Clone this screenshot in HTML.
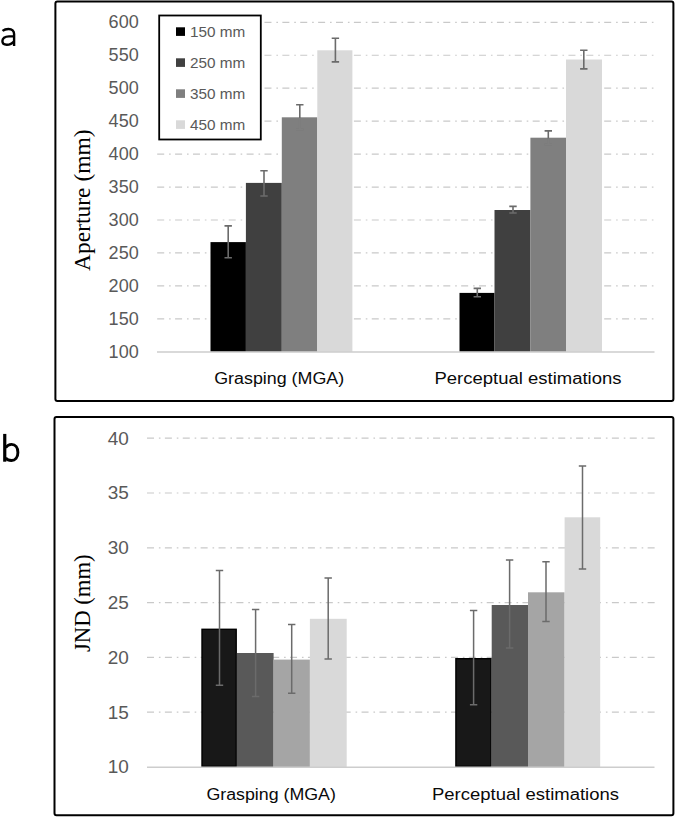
<!DOCTYPE html>
<html><head><meta charset="utf-8"><title>Chart</title>
<style>html,body{margin:0;padding:0;background:#fff;}body{width:675px;height:817px;position:relative;overflow:hidden;font-family:"Liberation Sans",sans-serif;}</style>
</head><body>
<svg width="675" height="817" viewBox="0 0 675 817" style="position:absolute;left:0;top:0">
<path d="M2.5 30.9 C4.2 29.6 6.2 29.0 8.4 29.0 C12.2 29.0 14.1 30.8 14.1 34.0 V45.9 M14.1 36.4 H9.0 C4.6 36.4 2.4 38.4 2.4 41.1 C2.4 43.5 4.3 44.8 6.8 44.8 C9.9 44.8 12.4 43.4 14.1 41.2" fill="none" stroke="#000" stroke-width="2.4"/>
<path d="M4.75 433.9 V461.7" fill="none" stroke="#000" stroke-width="3.2"/><path d="M5.6 447.6 C7.2 445.4 9.4 444.4 11.6 444.4 C15.5 444.4 17.9 447.6 17.9 452.4 C17.9 457.7 15.2 460.5 11.4 460.5 C9.0 460.5 7.0 459.7 5.6 458.0" fill="none" stroke="#000" stroke-width="2.9"/>
<rect x="55.4" y="1.5" width="618.0" height="399.4" fill="none" stroke="#000" stroke-width="2" rx="2"/>
<rect x="54.5" y="416.9" width="618.9" height="398.3" fill="none" stroke="#000" stroke-width="2" rx="2"/>
<line x1="157.2" y1="318.85" x2="655" y2="318.85" stroke="#c9c9c9" stroke-width="1.2" stroke-dasharray="7.0 4.9 1.6 4.38"/>
<line x1="157.2" y1="285.90" x2="655" y2="285.90" stroke="#c9c9c9" stroke-width="1.2" stroke-dasharray="7.0 4.9 1.6 4.38"/>
<line x1="157.2" y1="252.95" x2="655" y2="252.95" stroke="#c9c9c9" stroke-width="1.2" stroke-dasharray="7.0 4.9 1.6 4.38"/>
<line x1="157.2" y1="220.00" x2="655" y2="220.00" stroke="#c9c9c9" stroke-width="1.2" stroke-dasharray="7.0 4.9 1.6 4.38"/>
<line x1="157.2" y1="187.05" x2="655" y2="187.05" stroke="#c9c9c9" stroke-width="1.2" stroke-dasharray="7.0 4.9 1.6 4.38"/>
<line x1="157.2" y1="154.10" x2="655" y2="154.10" stroke="#c9c9c9" stroke-width="1.2" stroke-dasharray="7.0 4.9 1.6 4.38"/>
<line x1="157.2" y1="121.15" x2="655" y2="121.15" stroke="#c9c9c9" stroke-width="1.2" stroke-dasharray="7.0 4.9 1.6 4.38"/>
<line x1="157.2" y1="88.20" x2="655" y2="88.20" stroke="#c9c9c9" stroke-width="1.2" stroke-dasharray="7.0 4.9 1.6 4.38"/>
<line x1="157.2" y1="55.25" x2="655" y2="55.25" stroke="#c9c9c9" stroke-width="1.2" stroke-dasharray="7.0 4.9 1.6 4.38"/>
<line x1="157.2" y1="22.30" x2="655" y2="22.30" stroke="#c9c9c9" stroke-width="1.2" stroke-dasharray="7.0 4.9 1.6 4.38"/>
<text x="138.7" y="357.90" text-anchor="end" font-family="Liberation Sans" font-size="17.6" fill="#595959" textLength="30.1" lengthAdjust="spacingAndGlyphs">100</text>
<text x="138.7" y="324.95" text-anchor="end" font-family="Liberation Sans" font-size="17.6" fill="#595959" textLength="30.1" lengthAdjust="spacingAndGlyphs">150</text>
<text x="138.7" y="292.00" text-anchor="end" font-family="Liberation Sans" font-size="17.6" fill="#595959" textLength="30.1" lengthAdjust="spacingAndGlyphs">200</text>
<text x="138.7" y="259.05" text-anchor="end" font-family="Liberation Sans" font-size="17.6" fill="#595959" textLength="30.1" lengthAdjust="spacingAndGlyphs">250</text>
<text x="138.7" y="226.10" text-anchor="end" font-family="Liberation Sans" font-size="17.6" fill="#595959" textLength="30.1" lengthAdjust="spacingAndGlyphs">300</text>
<text x="138.7" y="193.15" text-anchor="end" font-family="Liberation Sans" font-size="17.6" fill="#595959" textLength="30.1" lengthAdjust="spacingAndGlyphs">350</text>
<text x="138.7" y="160.20" text-anchor="end" font-family="Liberation Sans" font-size="17.6" fill="#595959" textLength="30.1" lengthAdjust="spacingAndGlyphs">400</text>
<text x="138.7" y="127.25" text-anchor="end" font-family="Liberation Sans" font-size="17.6" fill="#595959" textLength="30.1" lengthAdjust="spacingAndGlyphs">450</text>
<text x="138.7" y="94.30" text-anchor="end" font-family="Liberation Sans" font-size="17.6" fill="#595959" textLength="30.1" lengthAdjust="spacingAndGlyphs">500</text>
<text x="138.7" y="61.35" text-anchor="end" font-family="Liberation Sans" font-size="17.6" fill="#595959" textLength="30.1" lengthAdjust="spacingAndGlyphs">550</text>
<text x="138.7" y="28.40" text-anchor="end" font-family="Liberation Sans" font-size="17.6" fill="#595959" textLength="30.1" lengthAdjust="spacingAndGlyphs">600</text>
<rect x="210.50" y="242.10" width="35.40" height="109.70" fill="#000000"/>
<rect x="245.90" y="182.90" width="35.90" height="168.90" fill="#404040"/>
<rect x="281.80" y="117.30" width="35.50" height="234.50" fill="#7f7f7f"/>
<rect x="317.30" y="50.30" width="35.10" height="301.50" fill="#d9d9d9"/>
<path d="M224.50 225.9 H231.90 M228.20 225.9 V257.8 M224.50 257.8 H231.90" stroke="#6b6b6b" stroke-width="1.6" fill="none"/>
<path d="M260.30 170.7 H267.70 M264.00 170.7 V196 M260.30 196 H267.70" stroke="#6b6b6b" stroke-width="1.6" fill="none"/>
<path d="M296.10 104.8 H303.50 M299.80 104.8 V129.5 M296.10 129.5 H303.50" stroke="#6b6b6b" stroke-width="1.6" fill="none"/>
<path d="M295.80 129.5 H303.80 M299.80 118.10 V130.5" stroke="#7f7f7f" stroke-width="2.2" fill="none"/>
<path d="M331.70 38.2 H339.10 M335.40 38.2 V61.9 M331.70 61.9 H339.10" stroke="#6b6b6b" stroke-width="1.6" fill="none"/>
<rect x="459.50" y="292.90" width="35.00" height="58.90" fill="#000000"/>
<rect x="494.50" y="210.00" width="35.90" height="141.80" fill="#404040"/>
<rect x="530.40" y="137.70" width="35.60" height="214.10" fill="#7f7f7f"/>
<rect x="566.00" y="59.50" width="36.00" height="292.30" fill="#d9d9d9"/>
<path d="M473.60 288.4 H481.00 M477.30 288.4 V296.7 M473.60 296.7 H481.00" stroke="#6b6b6b" stroke-width="1.6" fill="none"/>
<path d="M509.30 206.4 H516.70 M513.00 206.4 V213 M509.30 213 H516.70" stroke="#6b6b6b" stroke-width="1.6" fill="none"/>
<path d="M544.60 130.9 H552.00 M548.30 130.9 V144.5 M544.60 144.5 H552.00" stroke="#6b6b6b" stroke-width="1.6" fill="none"/>
<path d="M544.30 144.5 H552.30 M548.30 138.50 V145.5" stroke="#7f7f7f" stroke-width="2.2" fill="none"/>
<path d="M580.10 50.2 H587.50 M583.80 50.2 V68.9 M580.10 68.9 H587.50" stroke="#6b6b6b" stroke-width="1.6" fill="none"/>
<line x1="157" y1="352.0" x2="654.5" y2="352.0" stroke="#cdcdcd" stroke-width="1.4"/>
<rect x="155" y="15" width="6" height="125" fill="#fff"/><rect x="159.2" y="15.5" width="101.6" height="124" fill="#fff" stroke="#000" stroke-width="1.8"/>
<rect x="176" y="27.30" width="9" height="8.6" fill="#000000"/>
<text x="190" y="36.70" font-family="Liberation Sans" font-size="15.2" fill="#595959" textLength="55.3" lengthAdjust="spacingAndGlyphs">150 mm</text>
<rect x="176" y="58.30" width="9" height="8.6" fill="#404040"/>
<text x="190" y="67.70" font-family="Liberation Sans" font-size="15.2" fill="#595959" textLength="55.3" lengthAdjust="spacingAndGlyphs">250 mm</text>
<rect x="176" y="89.30" width="9" height="8.6" fill="#7f7f7f"/>
<text x="190" y="98.70" font-family="Liberation Sans" font-size="15.2" fill="#595959" textLength="55.3" lengthAdjust="spacingAndGlyphs">350 mm</text>
<rect x="176" y="120.30" width="9" height="8.6" fill="#d9d9d9"/>
<text x="190" y="129.70" font-family="Liberation Sans" font-size="15.2" fill="#595959" textLength="55.3" lengthAdjust="spacingAndGlyphs">450 mm</text>
<text x="214.2" y="384.3" font-family="Liberation Sans" font-size="17.3" fill="#0a0a0a" textLength="130" lengthAdjust="spacingAndGlyphs">Grasping (MGA)</text>
<text x="434.5" y="384.3" font-family="Liberation Sans" font-size="17.3" fill="#0a0a0a" textLength="187" lengthAdjust="spacingAndGlyphs">Perceptual estimations</text>
<text transform="translate(89.8 271) rotate(-90)" font-family="Liberation Serif" font-size="23.3" fill="#000" textLength="141.6" lengthAdjust="spacingAndGlyphs">Aperture (mm)</text>
<line x1="147" y1="712.20" x2="655" y2="712.20" stroke="#c9c9c9" stroke-width="1.2" stroke-dasharray="7.0 4.9 1.6 4.38"/>
<line x1="147" y1="657.40" x2="655" y2="657.40" stroke="#c9c9c9" stroke-width="1.2" stroke-dasharray="7.0 4.9 1.6 4.38"/>
<line x1="147" y1="602.60" x2="655" y2="602.60" stroke="#c9c9c9" stroke-width="1.2" stroke-dasharray="7.0 4.9 1.6 4.38"/>
<line x1="147" y1="547.80" x2="655" y2="547.80" stroke="#c9c9c9" stroke-width="1.2" stroke-dasharray="7.0 4.9 1.6 4.38"/>
<line x1="147" y1="493.00" x2="655" y2="493.00" stroke="#c9c9c9" stroke-width="1.2" stroke-dasharray="7.0 4.9 1.6 4.38"/>
<line x1="147" y1="438.20" x2="655" y2="438.20" stroke="#c9c9c9" stroke-width="1.2" stroke-dasharray="7.0 4.9 1.6 4.38"/>
<text x="128.9" y="773.30" text-anchor="end" font-family="Liberation Sans" font-size="17.5" fill="#595959" textLength="21.1" lengthAdjust="spacingAndGlyphs">10</text>
<text x="128.9" y="718.50" text-anchor="end" font-family="Liberation Sans" font-size="17.5" fill="#595959" textLength="21.1" lengthAdjust="spacingAndGlyphs">15</text>
<text x="128.9" y="663.70" text-anchor="end" font-family="Liberation Sans" font-size="17.5" fill="#595959" textLength="21.1" lengthAdjust="spacingAndGlyphs">20</text>
<text x="128.9" y="608.90" text-anchor="end" font-family="Liberation Sans" font-size="17.5" fill="#595959" textLength="21.1" lengthAdjust="spacingAndGlyphs">25</text>
<text x="128.9" y="554.10" text-anchor="end" font-family="Liberation Sans" font-size="17.5" fill="#595959" textLength="21.1" lengthAdjust="spacingAndGlyphs">30</text>
<text x="128.9" y="499.30" text-anchor="end" font-family="Liberation Sans" font-size="17.5" fill="#595959" textLength="21.1" lengthAdjust="spacingAndGlyphs">35</text>
<text x="128.9" y="444.50" text-anchor="end" font-family="Liberation Sans" font-size="17.5" fill="#595959" textLength="21.1" lengthAdjust="spacingAndGlyphs">40</text>
<rect x="202.00" y="629.30" width="34.20" height="137.00" fill="#181818" stroke="#000" stroke-width="1.4"/>
<rect x="236.90" y="653.00" width="36.70" height="114.00" fill="#595959"/>
<rect x="273.60" y="659.60" width="36.30" height="107.40" fill="#a5a5a5"/>
<rect x="309.90" y="618.80" width="36.80" height="148.20" fill="#d9d9d9"/>
<path d="M215.80 570.5 H223.20 M219.50 570.5 V685.2 M215.80 685.2 H223.20" stroke="#6b6b6b" stroke-width="1.5" fill="none"/>
<path d="M251.90 609.6 H259.30 M255.60 609.6 V696.6 M251.90 696.6 H259.30" stroke="#6b6b6b" stroke-width="1.5" fill="none"/>
<path d="M288.00 624.5 H295.40 M291.70 624.5 V693.3 M288.00 693.3 H295.40" stroke="#6b6b6b" stroke-width="1.5" fill="none"/>
<path d="M324.50 577.9 H331.90 M328.20 577.9 V659.1 M324.50 659.1 H331.90" stroke="#6b6b6b" stroke-width="1.5" fill="none"/>
<rect x="455.90" y="658.70" width="35.10" height="107.60" fill="#181818" stroke="#000" stroke-width="1.4"/>
<rect x="491.70" y="605.00" width="36.30" height="162.00" fill="#595959"/>
<rect x="528.00" y="592.30" width="36.60" height="174.70" fill="#a5a5a5"/>
<rect x="564.60" y="517.30" width="35.60" height="249.70" fill="#d9d9d9"/>
<path d="M469.90 610.5 H477.30 M473.60 610.5 V704.8 M469.90 704.8 H477.30" stroke="#6b6b6b" stroke-width="1.5" fill="none"/>
<path d="M505.90 559.9 H513.30 M509.60 559.9 V648.1 M505.90 648.1 H513.30" stroke="#6b6b6b" stroke-width="1.5" fill="none"/>
<path d="M542.30 561.8 H549.70 M546.00 561.8 V621.6 M542.30 621.6 H549.70" stroke="#6b6b6b" stroke-width="1.5" fill="none"/>
<path d="M578.80 465.9 H586.20 M582.50 465.9 V569.1 M578.80 569.1 H586.20" stroke="#6b6b6b" stroke-width="1.5" fill="none"/>
<line x1="147" y1="767.3" x2="654.5" y2="767.3" stroke="#cdcdcd" stroke-width="1.4"/>
<text x="206.4" y="800" font-family="Liberation Sans" font-size="17.3" fill="#0a0a0a" textLength="129.5" lengthAdjust="spacingAndGlyphs">Grasping (MGA)</text>
<text x="432" y="800" font-family="Liberation Sans" font-size="17.3" fill="#0a0a0a" textLength="187" lengthAdjust="spacingAndGlyphs">Perceptual estimations</text>
<text transform="translate(90 652) rotate(-90)" font-family="Liberation Serif" font-size="22.5" fill="#000" textLength="97.6" lengthAdjust="spacingAndGlyphs">JND (mm)</text>
</svg>
</body></html>
